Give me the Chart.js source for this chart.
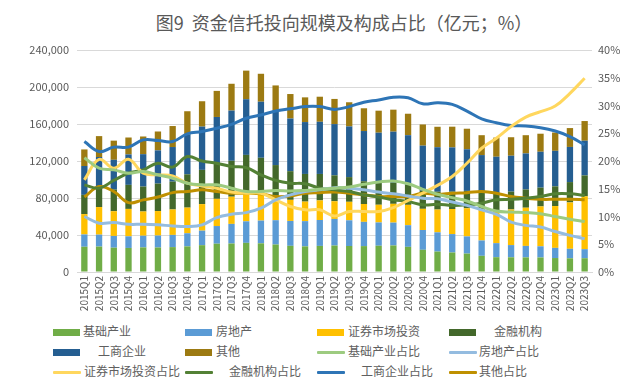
<!DOCTYPE html>
<html><head><meta charset="utf-8">
<script src="https://cdn.jsdelivr.net/npm/chart.js@4/dist/chart.umd.min.js"></script>
<style>
html,body{margin:0;padding:0;background:#fff;}
#wrap{position:relative;width:624px;height:390px;overflow:hidden;font-family:"Noto Sans CJK SC","Noto Sans",sans-serif;color:#595959;background:#fff;}
#title{position:absolute;left:64px;width:560px;top:10px;text-align:center;font-size:18px;line-height:24px;white-space:pre;color:#595959;}
canvas{position:absolute;left:0;top:0;}
.lg{position:absolute;font-size:12px;line-height:14px;white-space:pre;color:#606060;}
.sw{position:absolute;}
</style></head>
<body><div id="wrap"><div id="title">图9  资金信托投向规模及构成占比（亿元；%）</div><canvas id="c" width="624" height="322"></canvas><div id="legend"></div></div>
<script>
const quarters = ['2015Q1','2015Q2','2015Q3','2015Q4','2016Q1','2016Q2','2016Q3','2016Q4','2017Q1','2017Q2','2017Q3','2017Q4','2018Q1','2018Q2','2018Q3','2018Q4','2019Q1','2019Q2','2019Q3','2019Q4','2020Q1','2020Q2','2020Q3','2020Q4','2021Q1','2021Q2','2021Q3','2021Q4','2022Q1','2022Q2','2022Q3','2022Q4','2023Q1','2023Q2','2023Q3'];

// 规模（亿元）
const jichu = [27300,27500,26300,26000,26600,26500,26900,27700,29000,30600,30800,31500,31000,29700,28300,27700,28200,28600,28100,28000,28400,28700,27200,24000,22100,21100,19900,17500,16000,15900,15800,15700,15100,14800,14900];
const fangdichan = [13300,12900,12700,12600,12600,12900,13200,14200,15700,19100,21200,23300,24600,26300,26900,27300,28000,28800,27800,26200,25200,24700,23400,21400,20800,19900,18600,16600,15200,13200,12400,12100,11000,10300,9800];
const zhengquan = [22000,29800,26700,29600,26200,26500,27500,27700,28700,29400,29400,30900,30400,26300,22800,21100,21200,19100,20000,19300,19100,20300,22000,22900,24600,27100,30400,33000,35200,38500,41300,43100,45200,50100,57100];
const jinrong = [20800,22200,23500,26000,27000,29700,30100,36000,37000,38100,38800,40900,37500,33300,31000,29900,28600,28000,26700,24600,23600,22800,21700,19500,19300,18900,18800,18400,19000,19300,19700,20300,21300,22000,22600];
const gongshang = [31200,31900,32100,32900,35000,35900,37400,43100,46800,50400,54300,60200,60600,58600,56900,56100,56400,55400,54800,54300,54300,55200,53600,48800,48100,47700,45000,40900,39200,38800,39000,38800,38400,38000,37500];
const qita = [17900,22600,20700,18300,19100,20400,22700,25100,27400,28200,29000,30900,30200,27500,26500,26700,27100,27200,26100,24600,23800,23800,23200,22900,22100,22400,22200,21500,20700,20000,19700,19500,19800,20400,21300];

// 占比（%）
const jichuPct = [20.6,18.7,18.4,17.8,18.1,17.5,16.9,16.0,15.7,15.7,15.1,14.5,14.5,14.7,14.6,14.7,14.9,15.1,15.3,15.8,16.2,16.4,15.9,14.9,14.0,13.4,12.8,11.8,11.0,10.8,10.7,10.5,10.0,9.5,9.1];
const fangPct = [10.0,8.8,8.9,8.6,8.6,8.5,8.3,8.2,8.5,9.8,10.4,10.7,11.5,13.0,13.9,14.5,14.8,15.2,15.1,14.8,14.4,14.1,13.7,13.3,13.2,12.6,12.0,11.2,10.4,9.0,8.4,8.1,7.3,6.6,6.0];
const zqPct = [16.6,20.3,18.7,20.3,17.8,17.5,17.3,16.0,15.5,15.1,14.4,14.2,14.2,13.0,11.8,11.2,11.2,10.1,10.9,10.9,10.9,11.6,12.9,14.2,15.6,17.2,19.6,22.3,24.1,26.2,27.9,28.9,29.9,32.2,34.9];
const jrPct = [15.7,15.1,16.5,17.8,18.4,19.6,18.9,20.8,20.0,19.6,19.0,18.8,17.5,16.5,16.0,15.9,15.1,14.8,14.5,13.9,13.5,13.0,12.7,12.1,12.2,12.0,12.1,12.4,13.0,13.1,13.3,13.6,14.1,14.1,13.8];
const gsPct = [23.5,21.7,22.5,22.5,23.8,23.7,23.5,24.9,25.3,25.9,26.6,27.7,28.3,29.0,29.4,29.8,29.8,29.3,29.8,30.6,31.0,31.5,31.4,30.3,30.5,30.2,29.0,27.6,26.9,26.4,26.3,26.0,25.4,24.4,22.9];
const qtPct = [13.5,15.4,14.5,12.5,13.0,13.5,14.3,14.5,14.8,14.5,14.2,14.2,14.1,13.6,13.7,14.2,14.3,14.4,14.2,13.9,13.6,13.6,13.6,14.2,14.0,14.2,14.3,14.5,14.2,13.6,13.3,13.1,13.1,13.1,13.0];

const leftTicks = [0,40000,80000,120000,160000,200000,240000];
const rightTicks = [0,5,10,15,20,25,30,35,40];

const barSeries = [
  {label:'基础产业', data:jichu, color:'#70AD47'},
  {label:'房地产', data:fangdichan, color:'#5B9BD5'},
  {label:'证券市场投资', data:zhengquan, color:'#FFC000'},
  {label:'金融机构', data:jinrong, color:'#43682B'},
  {label:'工商企业', data:gongshang, color:'#255E91'},
  {label:'其他', data:qita, color:'#9C7A12'}
];
const lineSeries = [
  {label:'基础产业占比', data:jichuPct, color:'#9DCB80'},
  {label:'房地产占比', data:fangPct, color:'#94BCE0'},
  {label:'证券市场投资占比', data:zqPct, color:'#FFD75E'},
  {label:'金融机构占比', data:jrPct, color:'#538135'},
  {label:'工商企业占比', data:gsPct, color:'#2E75B6'},
  {label:'其他占比', data:qtPct, color:'#BF9000'}
];

const FONT = '"Noto Sans CJK SC","Noto Sans",sans-serif';
Chart.defaults.font.family = FONT;
Chart.defaults.color = '#595959';

const datasets = [];
barSeries.forEach(s => datasets.push({
  type:'bar', label:s.label, data:s.data, backgroundColor:s.color, borderWidth:0,
  yAxisID:'y', stack:'s', order:1, categoryPercentage:1.0, barPercentage:0.43
}));
lineSeries.forEach(s => datasets.push({
  type:'line', label:s.label, data:s.data, borderColor:s.color, backgroundColor:s.color,
  borderWidth:3, pointRadius:0, tension:0.4, fill:false, yAxisID:'y1', order:0
}));

new Chart(document.getElementById('c'), {
  type:'bar',
  data:{labels:quarters, datasets},
  options:{
    responsive:false, animation:false, devicePixelRatio:1,
    layout:{padding:{top:50,left:0,right:0,bottom:0}},
    plugins:{legend:{display:false}, title:{display:false}, tooltip:{enabled:false}},
    scales:{
      x:{stacked:true, grid:{display:false, drawTicks:false}, border:{display:true,color:'#D9D9D9'},
         ticks:{minRotation:90, maxRotation:90, autoSkip:false, padding:4, color:'#595959', font:{size:10}},
         afterFit(s){ s.height = 50; }},
      y:{stacked:true, position:'left', min:0, max:240000,
         afterBuildTicks(s){ s.ticks = leftTicks.map(v=>({value:v})); },
         ticks:{padding:8, color:'#595959', font:{size:11}, callback:v=>v.toLocaleString('en-US')},
         grid:{color:'#D9D9D9', drawTicks:false, lineWidth:1}, border:{display:false},
         afterFit(s){ s.width = 77; }},
      y1:{position:'right', min:0, max:40,
         afterBuildTicks(s){ s.ticks = rightTicks.map(v=>({value:v})); },
         ticks:{padding:6, color:'#595959', font:{size:11}, callback:v=>v+'%'},
         grid:{display:false, drawTicks:false}, border:{display:false},
         afterFit(s){ s.width = 32; }}
    }
  }
});

// legend (HTML, Excel-like grid)
const legendOrder = [
  {s:barSeries[0], type:'bar', gap:3},
  {s:barSeries[1], type:'bar', gap:4},
  {s:barSeries[2], type:'bar', gap:4},
  {s:barSeries[3], type:'bar', gap:18},
  {s:barSeries[4], type:'bar', gap:18},
  {s:barSeries[5], type:'bar', gap:4},
  {s:lineSeries[0], type:'line', gap:3},
  {s:lineSeries[1], type:'line', gap:2},
  {s:lineSeries[2], type:'line', gap:3},
  {s:lineSeries[3], type:'line', gap:16},
  {s:lineSeries[4], type:'line', gap:16},
  {s:lineSeries[5], type:'line', gap:2}
];
const lg = document.getElementById('legend');
legendOrder.forEach((it, i) => {
  const col = i % 4, row = Math.floor(i / 4);
  const x0 = 53 + col * 132, yc = 332 + row * 20;
  const sw = document.createElement('div');
  sw.className = 'sw';
  const w = it.type === 'bar' ? 27 : 28;
  const h = it.type === 'bar' ? 7 : 3;
  sw.style.cssText = `left:${x0}px;top:${yc - h/2}px;width:${w}px;height:${h}px;background:${it.s.color};` + (it.type==='line'?'border-radius:1px;':'');
  lg.appendChild(sw);
  const t = document.createElement('div');
  t.className = 'lg';
  t.textContent = it.s.label;
  t.style.left = (x0 + w + it.gap) + 'px';
  t.style.top = (yc - 8) + 'px';
  lg.appendChild(t);
});
</script>
</body></html>
